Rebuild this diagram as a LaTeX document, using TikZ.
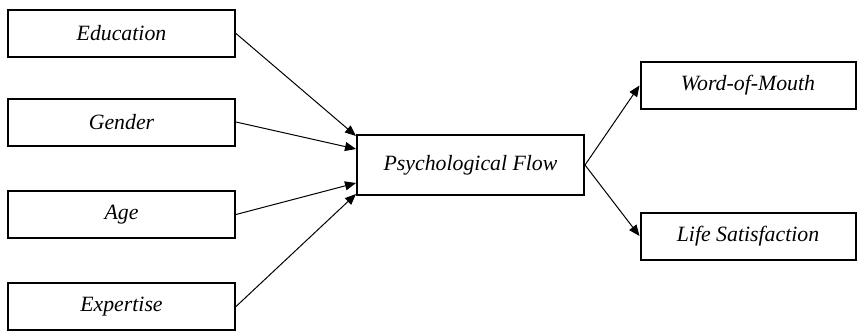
\documentclass[tikz,border=0pt]{standalone}
\usepackage{fontspec}
\setmainfont{Liberation Serif}
\usetikzlibrary{arrows.meta}
\begin{document}
\begin{tikzpicture}[x=0.5pt, y=-0.5pt,
    box/.style={draw, line width=1pt, minimum height=23.5pt, font=\itshape\fontsize{10.9}{13}\selectfont},
    leftbox/.style={box, minimum width=113.5pt},
    rightbox/.style={box, minimum width=107.5pt},
    arr/.style={-{Triangle[length=5.5pt, width=4.5pt]}, line width=0.5pt}]
    \useasboundingbox (0,0) rectangle (857,332);

    \node[leftbox] (edu) at (121.5, 33.5) {Education};
    \node[leftbox] (gen) at (121.5, 122) {Gender};
    \node[leftbox] (age) at (121.5, 214.5) {Age};
    \node[leftbox] (exp) at (121.5, 306.5) {Expertise};

    \node[box, minimum width=113.5pt, minimum height=30pt] (flow) at (470.5, 165) {Psychological Flow};

    \node[rightbox] (wom) at (748, 85.5) {Word-of-Mouth};
    \node[rightbox] (life) at (748, 236) {Life Satisfaction};

    \draw[arr] (edu.east) -- ([yshift=-1pt]flow.north west);
    \draw[arr] (gen.east) -- ([yshift=8pt]flow.west);
    \draw[arr] (age.east) -- ([yshift=-9pt]flow.west);
    \draw[arr] (exp.east) -- ([yshift=1pt]flow.south west);

    \draw[arr] (flow.east) -- (wom.west);
    \draw[arr] (flow.east) -- (life.west);
\end{tikzpicture}
\end{document}
